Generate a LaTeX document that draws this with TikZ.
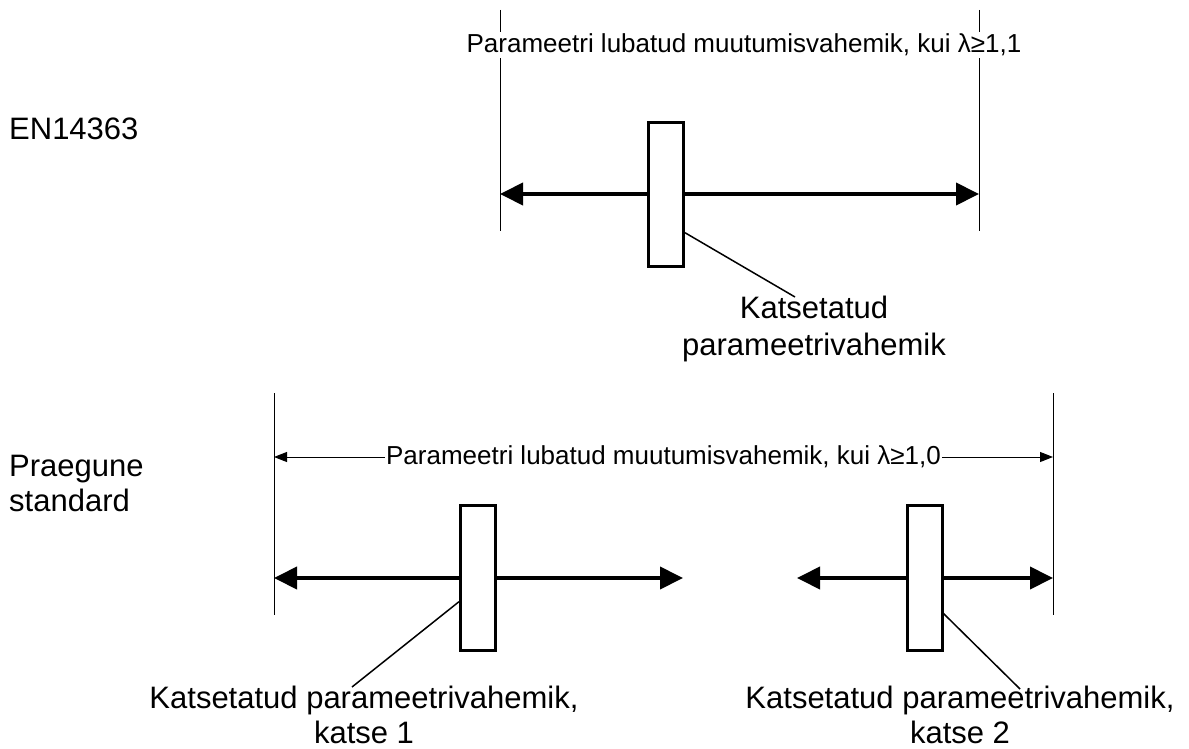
\documentclass[tikz,border=0pt]{standalone}
\usepackage{fontspec}
\setmainfont{Liberation Sans}
\usepackage{tikz}
\usetikzlibrary{arrows.meta,calc,positioning}

\begin{document}
\begin{tikzpicture}[big/.style={font=\fontsize{31}{36}\selectfont, inner sep=0pt, align=center},
  dimtext/.style={font=\fontsize{26}{30}\selectfont, fill=white, inner sep=2pt},
  ext/.style={line width=1pt},
  dimarrow/.style={line width=1pt, {Triangle[length=13pt,width=10pt]}-{Triangle[length=13pt,width=10pt]}},
  spanarrow/.style={line width=4pt, {Triangle[length=23pt,width=22pt]}-{Triangle[length=23pt,width=22pt]}},
  probe/.style={draw, line width=3pt, fill=white, minimum width=35pt, inner sep=0pt},
  leader/.style={line width=1.5pt}]
  \useasboundingbox (0pt, 0pt) rectangle (1189pt, -749pt);
  % EN14363
  \draw (9pt, -140pt)node[big, anchor=base west](en){EN14363};
  \draw (500pt, -10pt)coordinate(a1) (500pt, -231pt)coordinate(a2);
  \draw (979pt, -10pt)coordinate(b1) (979pt, -231pt)coordinate(b2);
  \draw[ext] (a1) -- (a2);
  \draw[ext] (b1) -- (b2);
  \draw (744pt, -45pt)node[dimtext](toplab){Parameetri lubatud muutumisvahemik, kui λ≥1,1};
  \draw (500pt, -194pt)coordinate(ta) (979pt, -194pt)coordinate(tb);
  \draw[spanarrow] (ta) -- (tb);
  \draw (666pt, -194.5pt)node[probe, minimum height=144pt](tbox){};
  % base of a two-line node is its last line
  \draw (814pt, -355pt)node[big, font=\fontsize{31}{37}\selectfont, anchor=base](tlab){Katsetatud\\parameetrivahemik};
  \coordinate (tpin) at (795pt, -297pt);
  \draw[leader] ($(tbox.south east)!0.24!(tbox.north east)$) -- (tpin);
  % Praegune standard
  \draw (9pt, -511pt)node[big, font=\fontsize{31}{35}\selectfont, align=left, anchor=base west](ps){Praegune\\standard};
  \draw (274pt, -393pt)coordinate(c1) (274pt, -615pt)coordinate(c2);
  \draw (1053pt, -393pt)coordinate(d1) (1053pt, -615pt)coordinate(d2);
  \draw[ext] (c1) -- (c2);
  \draw[ext] (d1) -- (d2);
  \draw (274pt, -457pt)coordinate(ca) (1053pt, -457pt)coordinate(da);
  \draw[dimarrow] (ca) -- node[dimtext, inner sep=1pt](botlab){Parameetri lubatud muutumisvahemik, kui λ≥1,0} (da);
  \draw (274pt, -578pt)coordinate(l1) (683pt, -578pt)coordinate(l2);
  \draw (797pt, -578pt)coordinate(r1) (1053pt, -578pt)coordinate(r2);
  \draw[spanarrow] (l1) -- (l2);
  \draw[spanarrow] (r1) -- (r2);
  \draw (478pt, -578pt)node[probe, minimum height=145pt](lbox){};
  \draw (924.5pt, -578pt)node[probe, minimum height=145pt](rbox){};
  \draw (364pt, -743pt)node[big, font=\fontsize{31}{35}\selectfont, anchor=base](llab){Katsetatud parameetrivahemik,\\katse 1};
  \draw (960pt, -743pt)node[big, font=\fontsize{31}{35}\selectfont, anchor=base](rlab){Katsetatud parameetrivahemik,\\katse 2};
  \coordinate (lpin) at (352pt, -687pt);
  \coordinate (rpin) at (1020pt, -689pt);
  \draw[leader] ($(lbox.south west)!0.34!(lbox.north west)$) -- (lpin);
  \draw[leader] ($(rbox.south east)!0.26!(rbox.north east)$) -- (rpin);
\end{tikzpicture}
\end{document}
